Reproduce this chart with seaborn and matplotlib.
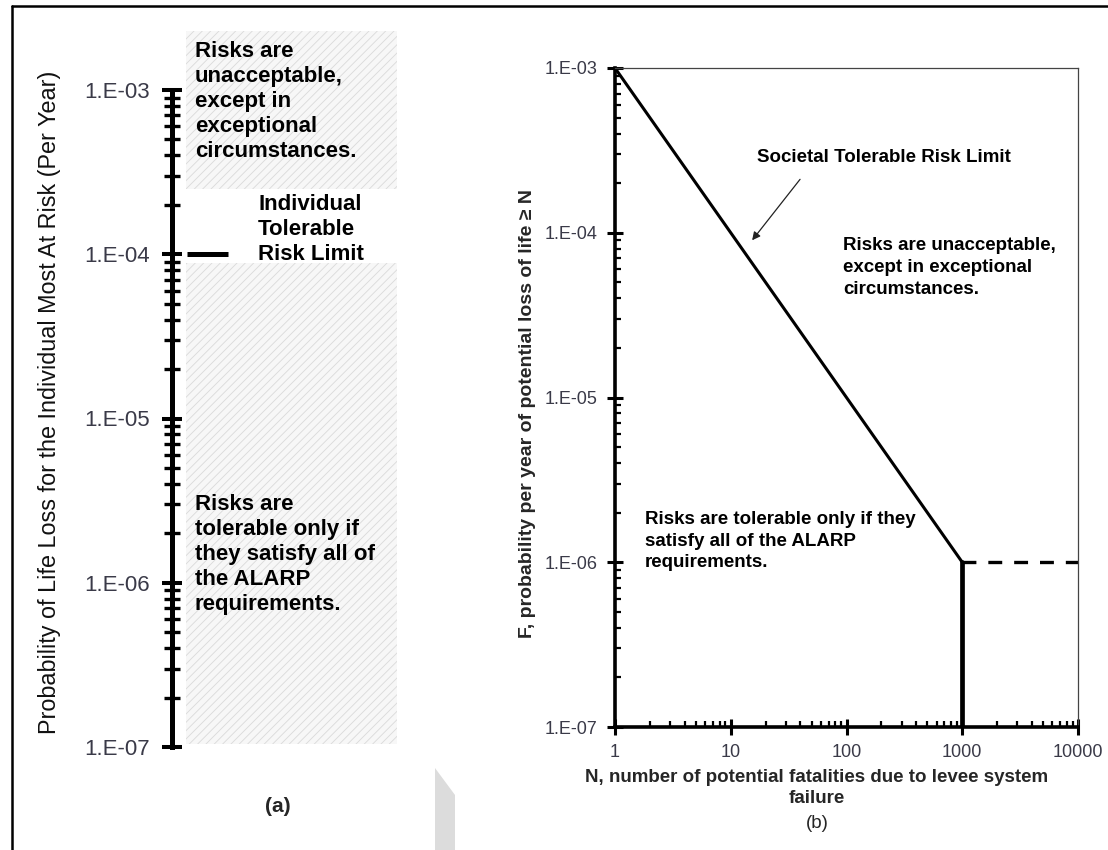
import numpy as np
import matplotlib
matplotlib.use('Agg')
import matplotlib.pyplot as plt
import matplotlib.ticker as mticker
from matplotlib.lines import Line2D
from matplotlib.patches import Polygon
import seaborn as sns

# valores
prob_ticks = [1e-7, 1e-6, 1e-5, 1e-4, 1e-3]
prob_labels = ['1.E-07', '1.E-06', '1.E-05', '1.E-04', '1.E-03']
n_ticks = [1, 10, 100, 1000, 10000]
n_labels = ['1', '10', '100', '1000', '10000']

individual_limit = 1e-4
unacceptable_band = (2.5e-4, 2.3e-3)
alarp_band = (1.05e-7, 8.9e-5)

societal_n = [1, 1000]
societal_f = [1e-3, 1e-6]
cutoff_n = [1000, 1000]
cutoff_f = [1e-7, 1e-6]
dashed_n = [1000, 10000]
dashed_f = [1e-6, 1e-6]

sns.set_theme(style='white')
plt.rcParams['font.family'] = ['Liberation Sans', 'DejaVu Sans']
plt.rcParams['hatch.linewidth'] = 0.6
plt.rcParams['lines.scale_dashes'] = False

W, H = 1108, 850
fig = plt.figure(figsize=(W / 100, H / 100), dpi=100)


def fx(x):
    return x / W


def fy(y):
    return 1 - y / H


# ---------------- panel (a) ----------------
axL = fig.add_axes([fx(172), fy(747), fx(400) - fx(172), fy(90) - fy(747)])
axL.set_facecolor('none')
axL.set_yscale('log')
axL.set_ylim(prob_ticks[0], prob_ticks[-1])
axL.set_xlim(0, 1)
axL.set_xticks([])
for s in ['top', 'right', 'bottom']:
    axL.spines[s].set_visible(False)
axL.spines['left'].set_linewidth(3.6)
axL.spines['left'].set_color('black')
axL.set_yticks(prob_ticks, labels=prob_labels)
axL.yaxis.set_minor_locator(mticker.LogLocator(base=10, subs=np.arange(2, 10)))
axL.yaxis.set_minor_formatter(mticker.NullFormatter())
axL.tick_params(axis='y', which='major', direction='inout', length=14.4, width=2.9,
                pad=9, labelsize=16, labelcolor='#3a3a48', color='black', left=True)
axL.tick_params(axis='y', which='minor', direction='inout', length=12, width=2.4,
                color='black', left=True)

axL.axhspan(*unacceptable_band, xmin=0.061, xmax=0.987, facecolor='#f7f7f7',
            edgecolor='#d9d9d9', hatch='////', linewidth=0, clip_on=False, zorder=0)
axL.axhspan(*alarp_band, xmin=0.061, xmax=0.987, facecolor='#f7f7f7',
            edgecolor='#d9d9d9', hatch='////', linewidth=0, clip_on=False, zorder=0)
axL.axhline(individual_limit, xmin=0.066, xmax=0.246, color='black', lw=3.6,
            solid_capstyle='butt')

bold_a = dict(fontsize=16, fontweight='bold', color='black', linespacing=1.25)
fig.text(fx(195), fy(101.5), 'Risks are\nunacceptable,\nexcept in\nexceptional\ncircumstances.',
         ha='left', va='center', **bold_a)
fig.text(fx(258), fy(230), 'Individual\nTolerable\nRisk Limit', ha='left', va='center', **bold_a)
fig.text(fx(195), fy(554.5), 'Risks are\ntolerable only if\nthey satisfy all of\nthe ALARP\nrequirements.',
         ha='left', va='center', **bold_a)
fig.text(fx(278), fy(806), '(a)', ha='center', va='center', fontsize=15, fontweight='bold')
fig.text(fx(50), fy(402), 'Probability of Life Loss for the Individual Most At Risk (Per Year)',
         rotation=90, ha='center', va='center', fontsize=16.8, color='#111111')

# ---------------- panel (b) ----------------
axR = fig.add_axes([fx(615), fy(727), fx(1078) - fx(615), fy(68) - fy(727)])
sns.lineplot(x=societal_n, y=societal_f, ax=axR, color='black', lw=2.2,
             estimator=None, sort=False)
sns.lineplot(x=cutoff_n, y=cutoff_f, ax=axR, color='black', lw=3.4,
             estimator=None, sort=False)
sns.lineplot(x=dashed_n, y=dashed_f, ax=axR, color='black', lw=2.4,
             estimator=None, sort=False, linestyle=(0, (10, 8.6)))
axR.set_xscale('log')
axR.set_yscale('log')
axR.set_xlim(n_ticks[0], n_ticks[-1])
axR.set_ylim(prob_ticks[0], prob_ticks[-1])
axR.set_xlabel('')
axR.set_ylabel('')
for s in ['top', 'right']:
    axR.spines[s].set_linewidth(0.9)
    axR.spines[s].set_color('#444444')
for s in ['left', 'bottom']:
    axR.spines[s].set_linewidth(2.6)
    axR.spines[s].set_color('black')
axR.set_xticks(n_ticks, labels=n_labels)
axR.set_yticks(prob_ticks, labels=prob_labels)
axR.xaxis.set_minor_locator(mticker.LogLocator(base=10, subs=np.arange(2, 10)))
axR.yaxis.set_minor_locator(mticker.LogLocator(base=10, subs=np.arange(2, 10)))
axR.xaxis.set_minor_formatter(mticker.NullFormatter())
axR.yaxis.set_minor_formatter(mticker.NullFormatter())
axR.tick_params(which='major', direction='inout', length=11, width=2.2, color='black',
                labelsize=13, labelcolor='#3a3a48', bottom=True, left=True, pad=7)
axR.tick_params(which='minor', direction='in', length=4.5, width=1.6, color='black',
                bottom=True, left=True)

axR.annotate('', xy=(15.3, 9e-5), xytext=(39.7, 2.11e-4),
             arrowprops=dict(arrowstyle='-|>', color='#222222', lw=0.9,
                             mutation_scale=12, shrinkA=0, shrinkB=0))

bold_b = dict(fontsize=13.5, fontweight='bold', color='black', linespacing=1.36)
fig.text(fx(884), fy(158), 'Societal Tolerable Risk Limit', ha='center', va='center', **bold_b)
fig.text(fx(843), fy(267.5), 'Risks are unacceptable,\nexcept in exceptional\ncircumstances.',
         ha='left', va='center', **bold_b)
fig.text(fx(645), fy(541), 'Risks are tolerable only if they\nsatisfy all of the ALARP\nrequirements.',
         ha='left', va='center', **bold_b)
fig.text(fx(817), fy(788), 'N, number of potential fatalities due to levee system\nfailure',
         ha='center', va='center', fontsize=13.5, fontweight='bold', linespacing=1.25)
fig.text(fx(817), fy(823), '(b)', ha='center', va='center', fontsize=13.5)
fig.text(fx(527), fy(413), 'F, probability per year of potential loss of life \u2265 N',
         rotation=90, ha='center', va='center', fontsize=14, fontweight='bold')

# marco y sombra de la pagina escaneada
fig.add_artist(Line2D([fx(12), fx(12)], [fy(6), 0], color='black', lw=1.8))
fig.add_artist(Line2D([fx(12), 1], [fy(6), fy(6)], color='black', lw=1.8))
fig.add_artist(Polygon([(fx(435), fy(768)), (fx(455), fy(795)), (fx(455), 0), (fx(435), 0)],
                       closed=True, facecolor='#dcdcdc', edgecolor='none'))

fig.savefig('out.png', dpi=100)
